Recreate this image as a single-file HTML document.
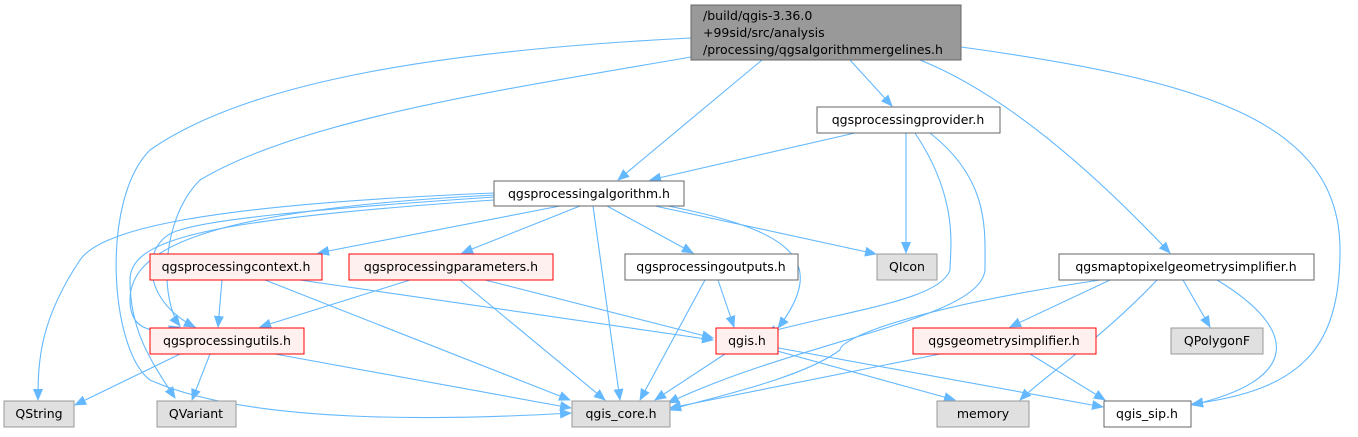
<!DOCTYPE html>
<html><head><meta charset="utf-8"><style>
body{margin:0;background:#fff;width:1358px;height:432px;overflow:hidden}
text{font-family:"DejaVu Sans","Liberation Sans",sans-serif;font-size:12.5px;fill:#000}
.e{fill:none;stroke:#63b8ff;stroke-width:1.1}
</style></head><body>
<svg width="1358" height="432" viewBox="0 0 1358 432">
<defs><marker id="a" markerWidth="12" markerHeight="10" refX="11" refY="5" orient="auto" markerUnits="userSpaceOnUse"><path d="M0,0 L12,5 L0,10 z" fill="#63b8ff"/></marker></defs>
<g class="e" marker-end="url(#a)">
<path d="M850,60 L892,106"/>
<path d="M762,60 L618,180"/>
<path d="M920,60 C1020,100 1120,200 1170,253"/>
<path d="M961,47 C1200,80 1340,120 1340,250 C1340,350 1300,390 1192,404"/>
<path d="M691,38 C450,50 250,80 150,150 C100,200 110,350 150,380 C250,425 450,420 571,413"/>
<path d="M691,57 C500,90 300,120 200,180 C160,220 160,300 180,326"/>
<path d="M855,133 L650,180"/>
<path d="M906,133 L906,253"/>
<path d="M915,133 C960,200 950,250 950,270 C940,300 850,310 765,333"/>
<path d="M930,133 C990,180 985,230 985,270 C980,320 800,340 668,403"/>
<path d="M560,206 L318,253"/>
<path d="M580,206 L462,253"/>
<path d="M607,206 L693,253"/>
<path d="M655,206 L876,254"/>
<path d="M668,206 C790,230 830,260 778,328"/>
<path d="M593,206 L620,400"/>
<path d="M494,197 C300,210 210,220 180,230 C140,240 140,300 195,327"/>
<path d="M494,200 C200,220 130,240 130,280 C130,330 150,360 175,398"/>
<path d="M494,193 C200,205 100,230 80,260 C40,320 38,360 38,400"/>
<path d="M494,195 C200,210 130,250 130,300 C130,340 170,330 180,327"/>
<path d="M222,280 L218,327"/>
<path d="M265,280 L570,400"/>
<path d="M300,280 L713,340"/>
<path d="M410,280 L260,327"/>
<path d="M460,280 L605,400"/>
<path d="M485,280 L713,338"/>
<path d="M705,280 L640,400"/>
<path d="M718,280 L734,327"/>
<path d="M180,354 L75,405"/>
<path d="M210,354 L192,400"/>
<path d="M275,354 L571,408"/>
<path d="M725,354 L655,400"/>
<path d="M752,344 L955,400"/>
<path d="M773,347 L1103,407"/>
<path d="M940,354 L670,408"/>
<path d="M1030,354 L1105,400"/>
<path d="M1110,280 L1010,327"/>
<path d="M1183,280 L1210,327"/>
<path d="M1157,280 C1100,340 1040,380 1020,400"/>
<path d="M1217,280 C1300,330 1300,380 1192,405"/>
<path d="M1100,280 C900,310 840,340 840,350 C800,380 700,400 670,410"/>
</g>
<g stroke-width="1">
<rect x="691" y="5" width="270" height="55" fill="#999" stroke="#666"/>
<rect x="817" y="107" width="183" height="26" fill="#fff" stroke="#666"/>
<rect x="494" y="181" width="190" height="25" fill="#fff" stroke="#666"/>
<rect x="150" y="254" width="172" height="26" fill="#fff0f0" stroke="#f00"/>
<rect x="349" y="254" width="204" height="26" fill="#fff0f0" stroke="#f00"/>
<rect x="625" y="254" width="173" height="26" fill="#fff" stroke="#666"/>
<rect x="877" y="254" width="60" height="26" fill="#e0e0e0" stroke="#999"/>
<rect x="1059" y="254" width="255" height="26" fill="#fff" stroke="#666"/>
<rect x="150" y="328" width="154" height="26" fill="#fff0f0" stroke="#f00"/>
<rect x="716" y="328" width="62" height="26" fill="#fff0f0" stroke="#f00"/>
<rect x="913" y="328" width="183" height="26" fill="#fff0f0" stroke="#f00"/>
<rect x="1171" y="328" width="92" height="26" fill="#e0e0e0" stroke="#999"/>
<rect x="4" y="401" width="70" height="26" fill="#e0e0e0" stroke="#999"/>
<rect x="157" y="401" width="79" height="26" fill="#e0e0e0" stroke="#999"/>
<rect x="572" y="401" width="98" height="26" fill="#e0e0e0" stroke="#999"/>
<rect x="937" y="401" width="92" height="26" fill="#e0e0e0" stroke="#999"/>
<rect x="1104" y="401" width="87" height="26" fill="#fff" stroke="#666"/>
</g>
<text x="703" y="20">/build/qgis-3.36.0</text>
<text x="703" y="37">+99sid/src/analysis</text>
<text x="703" y="54">/processing/qgsalgorithmmergelines.h</text>
<g text-anchor="middle">
<text x="908" y="124">qgsprocessingprovider.h</text>
<text x="589" y="198">qgsprocessingalgorithm.h</text>
<text x="236" y="271">qgsprocessingcontext.h</text>
<text x="451" y="271">qgsprocessingparameters.h</text>
<text x="711" y="271">qgsprocessingoutputs.h</text>
<text x="907" y="271">QIcon</text>
<text x="1186" y="271">qgsmaptopixelgeometrysimplifier.h</text>
<text x="227" y="345">qgsprocessingutils.h</text>
<text x="747" y="345">qgis.h</text>
<text x="1004" y="345">qgsgeometrysimplifier.h</text>
<text x="1217" y="345">QPolygonF</text>
<text x="39" y="418">QString</text>
<text x="196" y="418">QVariant</text>
<text x="621" y="418">qgis_core.h</text>
<text x="983" y="418">memory</text>
<text x="1147" y="418">qgis_sip.h</text>
</g>
</svg>
</body></html>
